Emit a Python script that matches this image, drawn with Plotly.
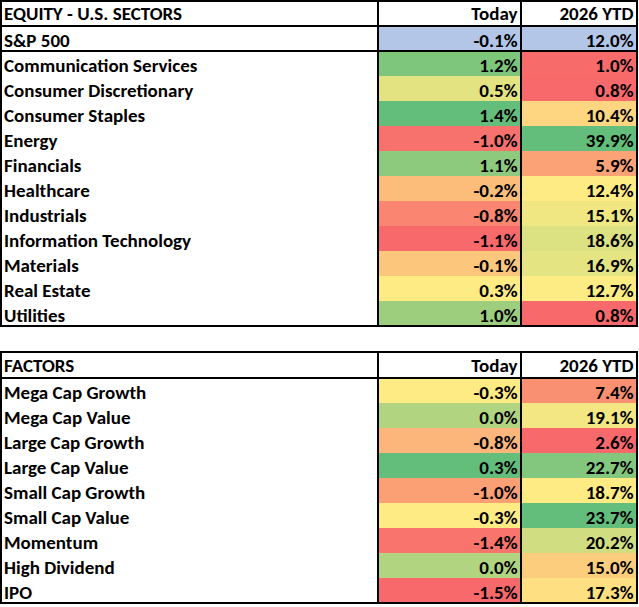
import numpy as np
import plotly.graph_objects as go

# ---------------- data ----------------
table1_title = "EQUITY - U.S. SECTORS"
table2_title = "FACTORS"
col_headers = ["Today", "2026 YTD"]

benchmark_name = "S&P 500"
benchmark_today = -0.1
benchmark_ytd = 12.0

sector_names = ["Communication Services", "Consumer Discretionary", "Consumer Staples",
                "Energy", "Financials", "Healthcare", "Industrials",
                "Information Technology", "Materials", "Real Estate", "Utilities"]
sector_today = [1.2, 0.5, 1.4, -1.0, 1.1, -0.2, -0.8, -1.1, -0.1, 0.3, 1.0]
sector_ytd = [1.0, 0.8, 10.4, 39.9, 5.9, 12.4, 15.1, 18.6, 16.9, 12.7, 0.8]

factor_names = ["Mega Cap Growth", "Mega Cap Value", "Large Cap Growth", "Large Cap Value",
                "Small Cap Growth", "Small Cap Value", "Momentum", "High Dividend", "IPO"]
factor_today = [-0.3, 0.0, -0.8, 0.3, -1.0, -0.3, -1.4, 0.0, -1.5]
factor_ytd = [7.4, 19.1, 2.6, 22.7, 18.7, 23.7, 20.2, 15.0, 17.3]

# ---------------- styling / layout ----------------
W, H = 639, 607
COL_EDGES = [1, 378, 521, 637]
ROW_H = 25
T1_TOP, T1_HEAD_H = 1, 25
T2_TOP, T2_HEAD_H = 352, 26
PAD = 3.5
FONT = "Carlito, Lato, 'Open Sans', sans-serif"
FS = 19
TEXT_DY = 3.5
LINE_W = 2
RED, YEL, GRN = (248, 105, 107), (255, 235, 132), (99, 190, 123)
BENCH_FILL = "rgb(180,198,231)"


def lerp(a, b, t):
    return tuple(round(a[i] + (b[i] - a[i]) * t) for i in range(3))


def excel_colors(vals):
    lo, hi, mid = min(vals), max(vals), float(np.percentile(vals, 50))
    out = []
    for v in vals:
        if v <= mid:
            t = 0 if mid == lo else (v - lo) / (mid - lo)
            c = lerp(RED, YEL, t)
        else:
            t = 0 if hi == mid else (v - mid) / (hi - mid)
            c = lerp(YEL, GRN, t)
        out.append("rgb(%d,%d,%d)" % c)
    return out


def fmt(v):
    return "%.1f%%" % v


shapes = []
fig = go.Figure()


def add_text(xs, ys, texts, pos):
    fig.add_trace(go.Scatter(x=xs, y=ys, text=texts, mode="text", textposition=pos,
                             textfont=dict(family=FONT, size=FS, color="black", weight="bold"),
                             hoverinfo="skip", showlegend=False, cliponaxis=False))


def rect(x0, x1, y0, y1, fill):
    shapes.append(dict(type="rect", xref="x", yref="y", x0=x0, x1=x1, y0=y0, y1=y1,
                       fillcolor=fill, line=dict(width=0), layer="below"))


def hline(y, x0, x1):
    shapes.append(dict(type="line", xref="x", yref="y", x0=x0, x1=x1, y0=y, y1=y,
                       line=dict(color="black", width=LINE_W), layer="above"))


def vline(x, y0, y1):
    shapes.append(dict(type="line", xref="x", yref="y", x0=x, x1=x, y0=y0, y1=y1,
                       line=dict(color="black", width=LINE_W), layer="above"))


def build_table(top, head_h, title, names, today, ytd, bench=None):
    body_rows = []
    if bench is not None:
        body_rows.append((bench[0], bench[1], bench[2], BENCH_FILL, BENCH_FILL))
    ct = excel_colors(today)
    cy = excel_colors(ytd)
    for i, n in enumerate(names):
        body_rows.append((n, today[i], ytd[i], ct[i], cy[i]))
    bottom = top + head_h + ROW_H * len(body_rows)
    ys = []
    for k, (n, t, yv, ft, fy) in enumerate(body_rows):
        y0 = top + head_h + k * ROW_H
        y1 = y0 + ROW_H
        rect(COL_EDGES[1], COL_EDGES[2], y0, y1, ft)
        rect(COL_EDGES[2], COL_EDGES[3], y0, y1, fy)
        ys.append((y0 + y1) / 2)
    hy = top + head_h / 2 + TEXT_DY - 1.5
    yy = [hy] + [v + TEXT_DY for v in ys]
    add_text([COL_EDGES[0] + PAD - 0.5] * (1 + len(body_rows)), yy,
             [title] + [r[0] for r in body_rows], "middle right")
    add_text([COL_EDGES[2] - PAD] * (1 + len(body_rows)), yy,
             [col_headers[0]] + [fmt(r[1]) for r in body_rows], "middle left")
    add_text([COL_EDGES[3] - PAD] * (1 + len(body_rows)), yy,
             [col_headers[1]] + [fmt(r[2]) for r in body_rows], "middle left")
    hline(top, COL_EDGES[0] - 1, COL_EDGES[3] + 1)
    hline(bottom, COL_EDGES[0] - 1, COL_EDGES[3] + 1)
    hline(top + head_h, COL_EDGES[0], COL_EDGES[3])
    if bench is not None:
        hline(top + head_h + ROW_H, COL_EDGES[0], COL_EDGES[3])
    for x in COL_EDGES:
        vline(x, top, bottom)


build_table(T1_TOP, T1_HEAD_H, table1_title, sector_names, sector_today, sector_ytd,
            bench=(benchmark_name, benchmark_today, benchmark_ytd))
build_table(T2_TOP, T2_HEAD_H, table2_title, factor_names, factor_today, factor_ytd)

fig.update_layout(
    width=W, height=H, margin=dict(l=0, r=0, t=0, b=0),
    paper_bgcolor="white", plot_bgcolor="white",
    xaxis=dict(range=[0, W], visible=False, fixedrange=True),
    yaxis=dict(range=[H, 0], visible=False, fixedrange=True),
    shapes=shapes, showlegend=False,
)
fig.write_html("out.html", config={"displayModeBar": False},
               post_script="document.body.style.margin='0';document.body.style.overflow='hidden';")
